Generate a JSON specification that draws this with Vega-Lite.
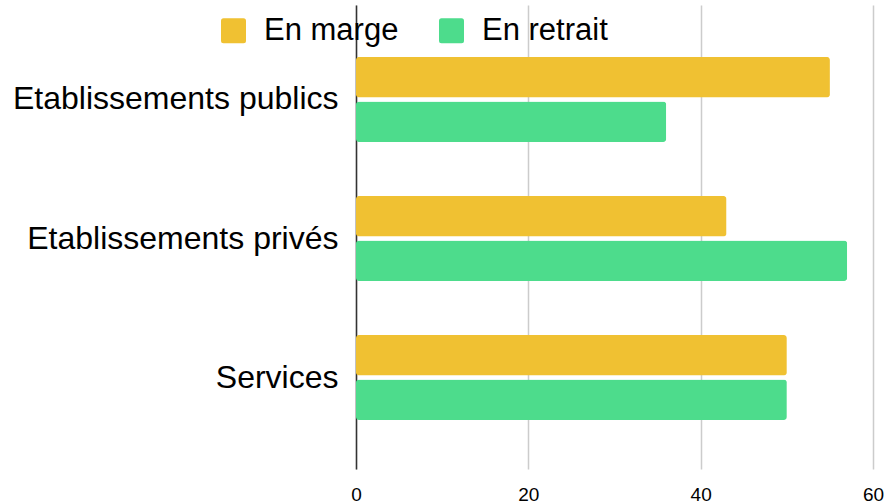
{
  "$schema": "https://vega.github.io/schema/vega-lite/v6.json",
  "autosize": {"type": "none"},
  "width": 517,
  "height": 464,
  "padding": {"left": 356, "top": 5, "right": 21, "bottom": 34},
  "background": "white",
  "data": {
    "values": [
      {"categorie": "Etablissements publics", "serie": "En marge", "valeur": 55},
      {"categorie": "Etablissements publics", "serie": "En retrait", "valeur": 36},
      {"categorie": "Etablissements privés", "serie": "En marge", "valeur": 43},
      {"categorie": "Etablissements privés", "serie": "En retrait", "valeur": 57},
      {"categorie": "Services", "serie": "En marge", "valeur": 50},
      {"categorie": "Services", "serie": "En retrait", "valeur": 50}
    ]
  },
  "mark": {"type": "bar", "cornerRadius": 3},
  "encoding": {
    "y": {
      "field": "categorie",
      "type": "nominal",
      "sort": ["Etablissements publics", "Etablissements privés", "Services"],
      "scale": {"paddingInner": 0.3885, "paddingOuter": 0.363, "align": 0.515},
      "axis": {
        "title": null,
        "domainColor": "#333333",
        "domainWidth": 1.5,
        "ticks": false,
        "labelPadding": 18,
        "labelFont": "Liberation Sans",
        "labelFontSize": 32,
        "labelColor": "#000000",
        "labelLimit": 400
      }
    },
    "yOffset": {
      "field": "serie",
      "type": "nominal",
      "sort": ["En marge", "En retrait"],
      "scale": {"paddingInner": 0.0899, "paddingOuter": 0}
    },
    "x": {
      "field": "valeur",
      "type": "quantitative",
      "scale": {"domain": [0, 60], "nice": false},
      "axis": {
        "title": null,
        "values": [0, 20, 40, 60],
        "domain": false,
        "ticks": false,
        "grid": true,
        "gridColor": "#cccccc",
        "gridWidth": 1.5,
        "labelFlush": false,
        "labelPadding": 16,
        "labelFont": "Liberation Sans",
        "labelFontSize": 19,
        "labelColor": "#000000"
      }
    },
    "color": {
      "field": "serie",
      "type": "nominal",
      "sort": ["En marge", "En retrait"],
      "scale": {"domain": ["En marge", "En retrait"], "range": ["#F0C132", "#4DDC8C"]},
      "legend": {
        "title": null,
        "orient": "none",
        "direction": "horizontal",
        "legendX": -138,
        "legendY": 10,
        "symbolType": "M-0.8,-1H0.8Q1,-1,1,-0.8V0.8Q1,1,0.8,1H-0.8Q-1,1,-1,0.8V-0.8Q-1,-1,-0.8,-1Z",
        "symbolSize": 625,
        "symbolStrokeWidth": 0,
        "symbolOpacity": 1,
        "labelOffset": 15,
        "columnPadding": 37,
        "labelFont": "Liberation Sans",
        "labelFontSize": 31,
        "labelColor": "#000000",
        "labelLimit": 300
      }
    }
  },
  "config": {"view": {"stroke": null}}
}
